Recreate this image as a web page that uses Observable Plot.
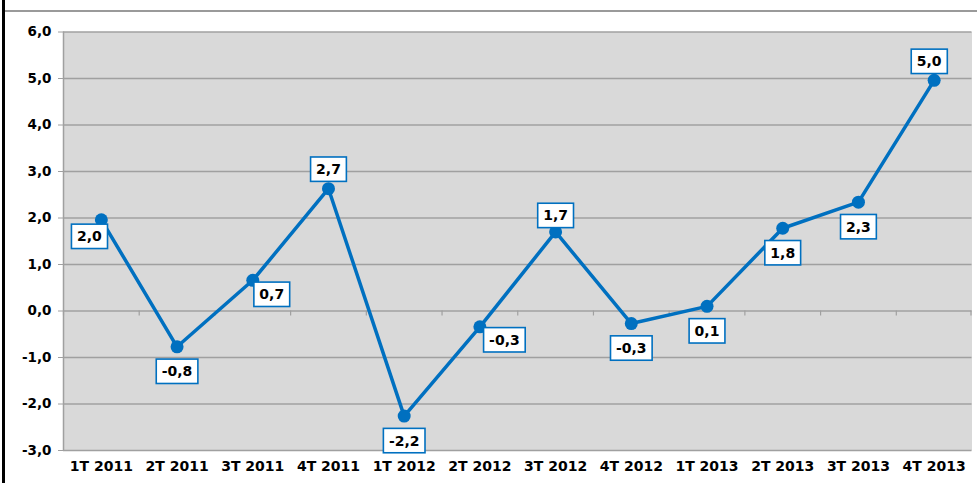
<!DOCTYPE html>
<html>
<head>
<meta charset="utf-8">
<script src="https://cdn.jsdelivr.net/npm/d3@7"></script>
<script src="https://cdn.jsdelivr.net/npm/@observablehq/plot@0.6"></script>
<style>
  html, body { margin: 0; padding: 0; background: #fff; }
  #wrap { position: relative; width: 977px; height: 483px; overflow: hidden; }
  #wrap svg { display: block; }
  .vline { position: absolute; left: 2px; top: 0; width: 2.5px; height: 483px; background: #000; }
  .hline { position: absolute; left: 4px; top: 10px; width: 973px; height: 1.5px; background: #9a9a9a; }
</style>
</head>
<body>
<div id="wrap"><div class="hline"></div><div class="vline"></div></div>
<script>
const categories = ["1T 2011","2T 2011","3T 2011","4T 2011","1T 2012","2T 2012","3T 2012","4T 2012","1T 2013","2T 2013","3T 2013","4T 2013"];
const values = [1.96, -0.77, 0.66, 2.63, -2.26, -0.34, 1.70, -0.27, 0.10, 1.78, 2.34, 4.96];
const valueLabels = ["2,0","-0,8","0,7","2,7","-2,2","-0,3","1,7","-0,3","0,1","1,8","2,3","5,0"];
const yTicks = [-3, -2, -1, 0, 1, 2, 3, 4, 5, 6];

const data = categories.map((c, i) => ({cat: c, value: values[i], label: valueLabels[i], i}));

const W = 977, H = 483, mL = 63, mR = 5.5, mT = 31.5, mB = 33;
const bw = (W - mL - mR) / categories.length;
const unit = (H - mT - mB) / (yTicks[yTicks.length - 1] - yTicks[0]);
const tickLen = 5 / unit;
const blue = "#0070c0";
const grid = "#a0a0a0";
const fmt = d => d.toFixed(1).replace(".", ",");

// label placement groups (index sets with pixel offsets)
const placements = [
  {idx: [0], dx: -12, dy: 17},
  {idx: [1, 4, 7, 8, 9, 10], dx: 0, dy: 25},
  {idx: [2], dx: 19, dy: 14.5},
  {idx: [5], dx: 24.5, dy: 13.5},
  {idx: [3], dx: 0, dy: -19},
  {idx: [6], dx: 0, dy: -16},
  {idx: [11], dx: -5, dy: -18.5}
];

const labelMarks = placements.map(p => Plot.text(data.filter(d => p.idx.includes(d.i)), {
  x: "cat", y: "value", text: "label", dx: p.dx, dy: p.dy,
  fontSize: 14, fontWeight: "bold", fill: "#000"
}));

const chart = Plot.plot({
  width: W, height: H,
  marginLeft: mL, marginRight: mR, marginTop: mT, marginBottom: mB,
  style: {fontFamily: "'DejaVu Sans', Verdana, sans-serif", fontSize: "13px", fontWeight: "bold", background: "transparent", color: "#000"},
  x: {type: "band", domain: categories, padding: 0, round: false, label: null},
  y: {domain: [yTicks[0], yTicks[yTicks.length - 1]], label: null},
  marks: [
    Plot.frame({fill: "#d9d9d9", stroke: null}),
    Plot.ruleY(yTicks, {stroke: grid, strokeWidth: 1.5}),
    Plot.ruleX([categories[0]], {x: d => d, dx: -bw / 2, stroke: grid, strokeWidth: 1.5}),
    Plot.ruleX(categories, {x: d => d, y1: 0, y2: -tickLen, dx: -bw / 2, stroke: grid, strokeWidth: 1.2}),
    Plot.ruleX([categories[categories.length - 1]], {x: d => d, y1: 0, y2: -tickLen, dx: bw / 2 - 1, stroke: grid, strokeWidth: 1.2}),
    Plot.axisY(yTicks, {tickSize: 5, tickPadding: 7, tickFormat: fmt, stroke: grid, fill: "#000", fontWeight: "bold", fontSize: 13.5, label: null}),
    Plot.axisX({tickSize: 0, tickPadding: 11, fill: "#000", fontWeight: "bold", fontSize: 14, label: null}),
    Plot.line(data, {x: "cat", y: "value", stroke: blue, strokeWidth: 3.5}),
    Plot.dot(data, {x: "cat", y: "value", r: 6.5, fill: blue, stroke: null}),
    ...labelMarks
  ]
});

document.getElementById("wrap").prepend(chart);

// draw white boxes behind the value labels
chart.querySelectorAll('g[aria-label="text"] text').forEach(t => {
  const b = t.getBBox();
  const padX = 5.5, padY = 4.2;
  const r = document.createElementNS("http://www.w3.org/2000/svg", "rect");
  r.setAttribute("x", b.x - padX);
  r.setAttribute("y", b.y - padY);
  r.setAttribute("width", b.width + 2 * padX);
  r.setAttribute("height", b.height + 2 * padY);
  r.setAttribute("fill", "#fff");
  r.setAttribute("stroke", blue);
  r.setAttribute("stroke-width", 1.6);
  const tr = t.getAttribute("transform");
  if (tr) r.setAttribute("transform", tr);
  t.parentNode.insertBefore(r, t);
});
</script>
</body>
</html>
